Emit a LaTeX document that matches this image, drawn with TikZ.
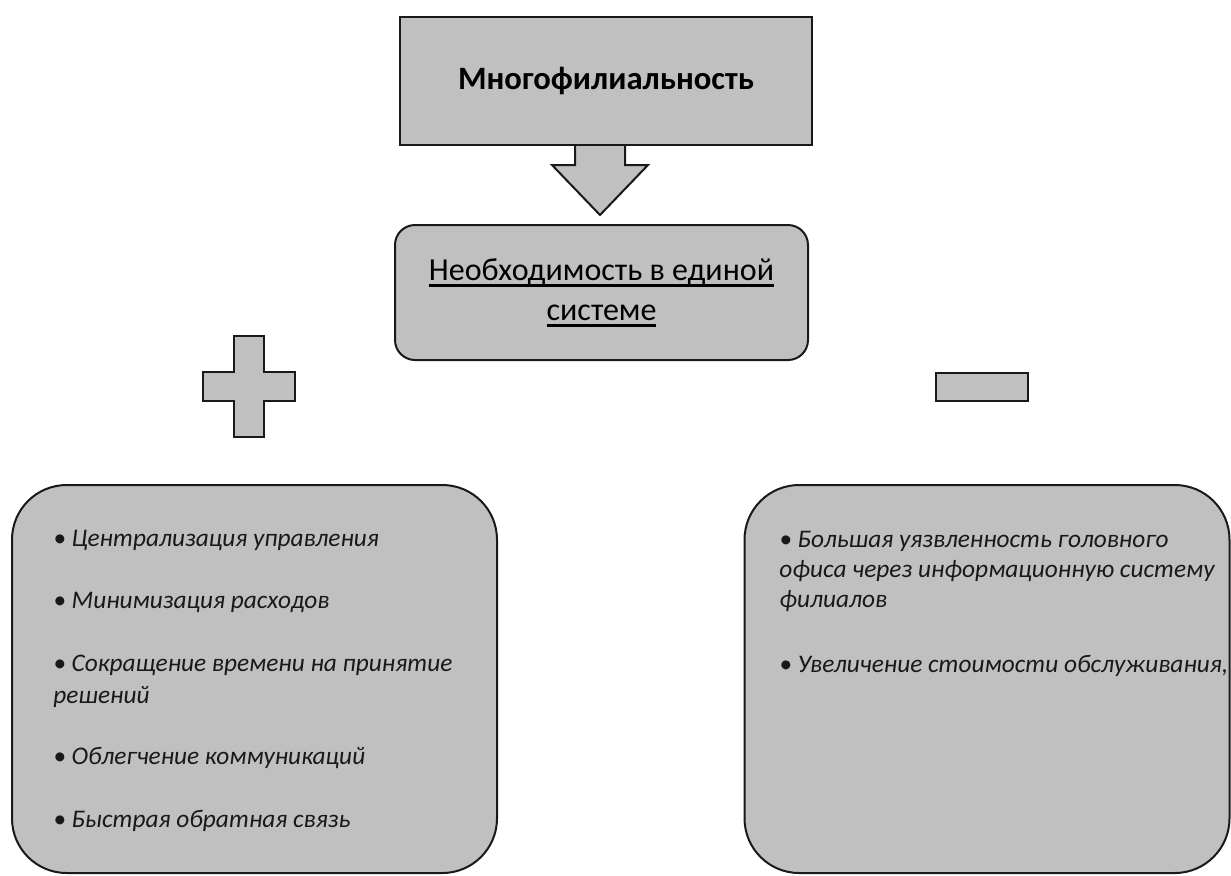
\documentclass[tikz,border=0pt]{standalone}
\usepackage{fontspec}
\setmainfont{Carlito}
\definecolor{boxgray}{RGB}{192,192,192}
\definecolor{edge}{RGB}{25,25,25}
\newcommand\thickul[1]{\leavevmode\setbox0\hbox{#1}\rlap{\rule[-4.9pt]{\wd0}{2.2pt}}\box0}
\begin{document}
\begin{tikzpicture}[x=0.75pt,y=-0.75pt,
  shapebox/.style={draw=edge,line width=1.5pt,fill=boxgray},
  titlebox/.style={shapebox,minimum width=309pt,minimum height=96pt,inner sep=0pt,
     font=\fontsize{24.5}{29}\selectfont\bfseries},
  midbox/.style={shapebox,rounded corners=15pt,minimum width=309.75pt,minimum height=101.25pt,
     inner sep=0pt,align=center,font=\fontsize{24}{30}\selectfont},
  listbox/.style={shapebox,rounded corners=41pt,minimum width=363.75pt,minimum height=291pt,inner sep=0pt},
  item/.style={anchor=base west,inner sep=0pt,text=edge,
     font=\fontsize{19}{23.5}\selectfont\itshape}
]
\useasboundingbox (0,0) rectangle (1231,875);
% arrow from title box to middle box
\draw[shapebox,line join=miter] (575,145) -- (575,165) -- (552,165) -- (600,215) -- (648,165) -- (625,165) -- (625,145);
\node[titlebox] (top) at (606,81) {Многофилиальность};
\node[midbox] (mid) at (601.5,292.5) {\thickul{Необходимость в единой}\\\thickul{системе}};
% plus sign
\draw[shapebox] (234,336) -- (264,336) -- (264,372) -- (295,372) -- (295,401) -- (264,401) -- (264,437)
  -- (234,437) -- (234,401) -- (203,401) -- (203,372) -- (234,372) -- cycle;
% minus sign
\draw[shapebox] (936,373) rectangle (1028,401);
% lists
\node[listbox] (pros) at (254.5,679) {};
\node[listbox] (cons) at (987,679) {};
\node[item] (p1) at (53,546) {• Централизация управления};
\node[item] (p2) at (53,608) {• Минимизация расходов};
\node[item] (p3a) at (53,671) {• Сокращение времени на принятие};
\node[item] (p3b) at (53,703) {решений};
\node[item] (p4) at (53,764) {• Облегчение коммуникаций};
\node[item] (p5) at (53,827) {• Быстрая обратная связь};
\node[item] (c1a) at (779,547) {• Большая уязвленность головного};
\node[item] (c1b) at (779,577) {офиса через информационную систему};
\node[item] (c1c) at (779,607) {филиалов};
\node[item] (c2) at (779,672) {• Увеличение стоимости обслуживания,};
\end{tikzpicture}
\end{document}
